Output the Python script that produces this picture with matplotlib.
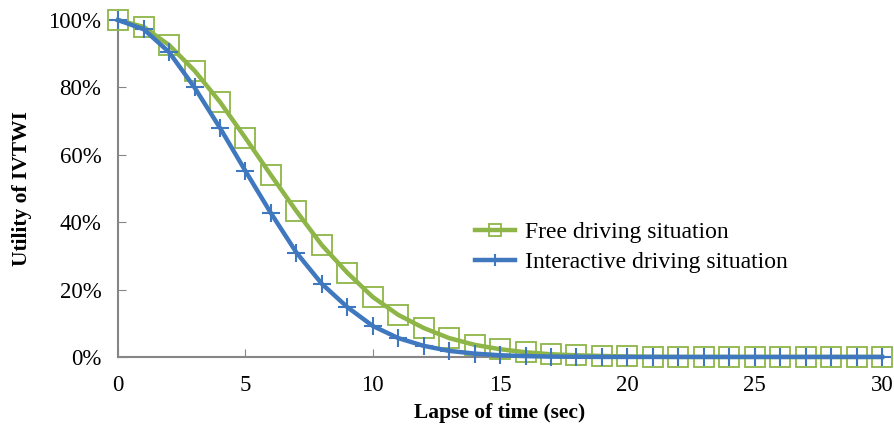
import matplotlib.pyplot as plt
import numpy as np

plt.rcParams['font.family'] = ['Liberation Serif', 'DejaVu Serif']

time_sec = list(range(0, 31))
free_driving = [100, 98, 92.6, 85, 75.7, 65, 54, 43.3, 33.2, 25, 17.8, 12.5, 8.6, 5.6,
                3.6, 2.3, 1.4, 0.8, 0.5, 0.3, 0.15, 0.05, 0, 0, 0, 0, 0, 0, 0, 0, 0]
interactive_driving = [100, 97.3, 90.5, 80, 68, 55.2, 42.7, 31, 21.7, 14.8, 9.2, 5.6, 3.3,
                       1.8, 1.0, 0.5, 0.25, 0.1, 0.05, 0, 0, 0, 0, 0, 0, 0, 0, 0, 0, 0, 0]

x_ticks = [0, 5, 10, 15, 20, 25, 30]
y_ticks = [0, 20, 40, 60, 80, 100]

green = '#8db547'
blue = '#3f78bf'

fig = plt.figure(figsize=(8.95, 4.28), dpi=100)
ax = fig.add_axes([0.132, 0.166, 0.8535, 0.787])

ax.plot(time_sec, np.array(free_driving) / 100, color=green, lw=3.2, marker='s',
        markersize=14, markerfacecolor='none', markeredgecolor=green, markeredgewidth=1.3,
        clip_on=False, label='Free driving situation', zorder=3)
ax.plot(time_sec, np.array(interactive_driving) / 100, color=blue, lw=3.2, marker='+',
        markersize=13, markeredgecolor=blue, markeredgewidth=1.5,
        clip_on=False, label='Interactive driving situation', zorder=4)

ax.set_xlim(0, 30)
ax.set_ylim(0, 1)
ax.set_xticks(x_ticks)
ax.set_xticklabels([str(t) for t in x_ticks])
ax.set_yticks([v / 100 for v in y_ticks])
ax.set_yticklabels([f'{v}%' for v in y_ticks])
ax.tick_params(direction='in', length=6, color='#868686', labelsize=16.5)
ax.tick_params(axis='y', pad=12)
ax.tick_params(axis='x', pad=13)

for side in ['top', 'right']:
    ax.spines[side].set_visible(False)
for side in ['left', 'bottom']:
    ax.spines[side].set_color('#868686')
    ax.spines[side].set_linewidth(1.5)

ax.set_xlabel('Lapse of time (sec)', fontsize=15.5, fontweight='bold', labelpad=5)
ax.set_ylabel('Utility of IVTWI', fontsize=15.5, fontweight='bold', labelpad=12)

ax.legend(loc='center left', bbox_to_anchor=(0.467, 0.325), frameon=False, fontsize=17,
          handlelength=1.7, handletextpad=0.42, labelspacing=0.35, markerscale=0.65,
          borderpad=0, borderaxespad=0)

fig.savefig('out.png', dpi=100)
